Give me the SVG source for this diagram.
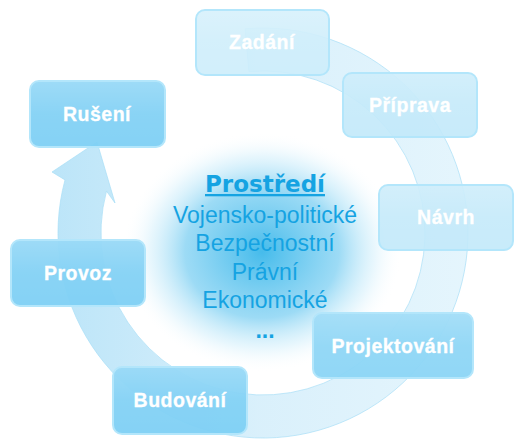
<svg xmlns="http://www.w3.org/2000/svg" width="524" height="443" viewBox="0 0 524 443">
<defs>
<radialGradient id="glow" cx="0.5" cy="0.5" r="0.5">
<stop offset="0" stop-color="#3cb8ea" stop-opacity="0.95"/>
<stop offset="0.55" stop-color="#7ccff2" stop-opacity="0.75"/>
<stop offset="0.8" stop-color="#c4eafa" stop-opacity="0.4"/>
<stop offset="1" stop-color="#ffffff" stop-opacity="0"/>
</radialGradient>
<linearGradient id="ringg" x1="0" y1="0" x2="1" y2="0">
<stop offset="0" stop-color="#a5dcf6"/>
<stop offset="0.5" stop-color="#cdebfa"/>
<stop offset="1" stop-color="#dcf2fc"/>
</linearGradient>
<linearGradient id="shine" x1="0" y1="0" x2="0" y2="1">
<stop offset="0" stop-color="#ffffff" stop-opacity="0.2"/>
<stop offset="0.5" stop-color="#ffffff" stop-opacity="0.04"/>
<stop offset="1" stop-color="#ffffff" stop-opacity="0"/>
</linearGradient>
<style>
.box{stroke:#b3e6fb;stroke-width:2}
.dark{fill:#7ed0f4}
.mid{fill:#8bd5f5}
.light{fill:#c2e9fa}
.lighter{fill:#cdedfb}
.sh{fill:url(#shine)}
.lbl{font-family:"Liberation Sans",Arial,sans-serif;font-weight:bold;font-size:19.5px;letter-spacing:0.5px;fill:#ffffff;stroke:#ffffff;stroke-width:0.3;text-anchor:middle}
.env{font-family:"Liberation Sans",Arial,sans-serif;font-size:23px;fill:#15a3e2;text-anchor:middle}
.envh{font-family:"DejaVu Sans",Verdana,sans-serif;font-weight:bold;font-size:23px;fill:#15a3e2;text-anchor:middle;text-decoration:underline}
</style>
</defs>
<rect width="524" height="443" fill="#ffffff"/>
<ellipse cx="262" cy="252" rx="140" ry="120" fill="url(#glow)"/>
<g id="connectors">
<path d="M245.1,28.8 A205,205 0 1 1 65,179.9 L52,172 L97,142 L115,203 L106.5,191.1 A162,162 0 1 0 248.9,71.6 Z" fill="url(#ringg)" fill-opacity="0.75" stroke="#a8def6" stroke-opacity="0.7" stroke-width="1"/>
</g>
<g id="center">
<text class="envh" x="265" y="192">Prostředí</text>
<text class="env" x="265" y="223">Vojensko-politické</text>
<text class="env" x="265" y="251">Bezpečnostní</text>
<text class="env" x="265" y="280">Právní</text>
<text class="env" x="265" y="308">Ekonomické</text>
<text class="env" x="265" y="338" font-weight="bold">...</text>
</g>
<g id="zadani">
<rect class="box lighter" x="196" y="10" width="133" height="65" rx="9" fill-opacity="0.9"/>
<rect class="sh" x="197" y="11" width="131" height="63" rx="8"/>
<text class="lbl" x="262" y="49">Zadání</text>
</g>
<g id="priprava">
<rect class="box light" x="343" y="73" width="134" height="64" rx="9" fill-opacity="0.9"/>
<rect class="sh" x="344" y="74" width="132" height="62" rx="8"/>
<text class="lbl" x="410" y="112">Příprava</text>
</g>
<g id="navrh">
<rect class="box light" x="379" y="185" width="134" height="65" rx="9" fill-opacity="0.9"/>
<rect class="sh" x="380" y="186" width="132" height="63" rx="8"/>
<text class="lbl" x="446" y="224">Návrh</text>
</g>
<g id="projektovani">
<rect class="box mid" x="313" y="313" width="160" height="65" rx="9" fill-opacity="0.95"/>
<rect class="sh" x="314" y="314" width="158" height="63" rx="8"/>
<text class="lbl" x="393" y="353">Projektování</text>
</g>
<g id="budovani">
<rect class="box dark" x="113" y="367" width="134" height="67" rx="9" fill-opacity="0.95"/>
<rect class="sh" x="114" y="368" width="132" height="65" rx="8"/>
<text class="lbl" x="180" y="407">Budování</text>
</g>
<g id="provoz">
<rect class="box dark" x="11" y="240" width="134" height="66" rx="9" fill-opacity="0.95"/>
<rect class="sh" x="12" y="241" width="132" height="64" rx="8"/>
<text class="lbl" x="78" y="280">Provoz</text>
</g>
<g id="ruseni">
<rect class="box dark" x="30" y="81" width="135" height="66" rx="9" fill-opacity="0.95"/>
<rect class="sh" x="31" y="82" width="133" height="64" rx="8"/>
<text class="lbl" x="97" y="121">Rušení</text>
</g>
</svg>
